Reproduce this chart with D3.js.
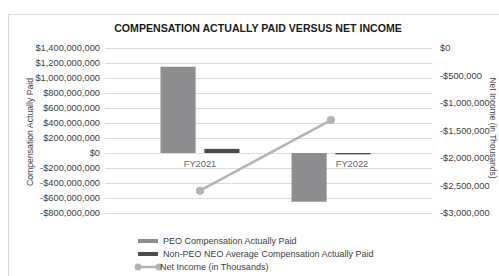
<!DOCTYPE html>
<html>
<head>
<meta charset="utf-8">
<script src="https://cdn.jsdelivr.net/npm/d3@7"></script>
<style>
  body { margin: 0; background: #fff; }
  svg { font-family: "Liberation Sans", Arial, sans-serif; display: block; }
</style>
</head>
<body>
<div id="chart"></div>
<script>
// data
const years = ["FY2021", "FY2022"];
const peoCap = [1150000000, -650000000];
const nonPeoCap = [55000000, -18000000];
const netIncome = [-2595000, -1310000];
const leftTicks = [1400000000, 1200000000, 1000000000, 800000000, 600000000, 400000000, 200000000, 0,
                   -200000000, -400000000, -600000000, -800000000];
const rightTicks = [0, -500000, -1000000, -1500000, -2000000, -2500000, -3000000];
const seriesNames = ["PEO Compensation Actually Paid", "Non-PEO NEO Average Compensation Actually Paid"];
const lineName = "Net Income (in Thousands)";

const W = 499, H = 276;
const plot = { left: 105, right: 432, top: 48, bottom: 213 };
const colors = { peo: "#8d8d8f", nonPeo: "#4b4b4b", line: "#b3b3b3", grid: "#dcdcdc", text: "#404040" };

const svg = d3.select("#chart").append("svg")
    .attr("width", W)
    .attr("height", H);

// outer frame
svg.append("rect")
    .attr("x", 8.5).attr("y", 14.5)
    .attr("width", 520).attr("height", 300)
    .attr("fill", "none")
    .attr("stroke", "#d9d9d9");

svg.append("text")
    .attr("x", 258).attr("y", 32)
    .attr("text-anchor", "middle")
    .style("font-size", "10.6px")
    .style("font-weight", "bold")
    .attr("fill", "#1a1a1a")
    .text("COMPENSATION ACTUALLY PAID VERSUS NET INCOME");

const yLeft = d3.scaleLinear().domain([-800000000, 1400000000]).range([plot.bottom, plot.top]);
const yRight = d3.scaleLinear().domain([-3000000, 0]).range([plot.bottom, plot.top]);

const x = d3.scaleBand().domain(years).range([134.5, 396.5]);
const xSub = d3.scaleBand().domain(["peo", "nonPeo"]).range([-39.5, 39.5]).paddingInner(0.2);

const money = d => (d < 0 ? "-$" : "$") + d3.format(",")(Math.abs(d));

// gridlines
svg.append("g")
    .selectAll("line")
    .data(leftTicks)
    .join("line")
    .attr("x1", plot.left).attr("x2", plot.right)
    .attr("y1", d => Math.round(yLeft(d)) + 0.5)
    .attr("y2", d => Math.round(yLeft(d)) + 0.5)
    .attr("stroke", colors.grid)
    .attr("stroke-width", 1);

// left axis
const leftAxis = svg.append("g")
    .attr("transform", `translate(${plot.left},0)`)
    .call(d3.axisLeft(yLeft).tickValues(leftTicks).tickFormat(money).tickSize(0).tickPadding(5));
leftAxis.select(".domain").remove();
leftAxis.selectAll("text")
    .style("font-size", "9.3px")
    .attr("fill", colors.text);

// right axis
const rightAxis = svg.append("g")
    .attr("transform", `translate(${plot.right},0)`)
    .call(d3.axisRight(yRight).tickValues(rightTicks).tickFormat(money).tickSize(0).tickPadding(8));
rightAxis.select(".domain").remove();
rightAxis.selectAll("text")
    .style("font-size", "9.3px")
    .attr("fill", colors.text);

// axis titles
svg.append("text")
    .attr("transform", "translate(33,132) rotate(-90)")
    .attr("text-anchor", "middle")
    .style("font-size", "8.7px")
    .attr("fill", colors.text)
    .text("Compensation Actually Paid");

svg.append("text")
    .attr("transform", "translate(490,128) rotate(90)")
    .attr("text-anchor", "middle")
    .style("font-size", "8.4px")
    .attr("fill", colors.text)
    .text("Net Income (in Thousands)");

// bars
const barData = years.map((y, i) => [
    { year: y, key: "peo", value: peoCap[i] },
    { year: y, key: "nonPeo", value: nonPeoCap[i] }
]).flat();

svg.append("g")
    .selectAll("rect")
    .data(barData)
    .join("rect")
    .attr("x", d => x(d.year) + x.bandwidth() / 2 + xSub(d.key))
    .attr("width", xSub.bandwidth())
    .attr("y", d => yLeft(Math.max(0, d.value)))
    .attr("height", d => Math.abs(yLeft(d.value) - yLeft(0)))
    .attr("fill", d => colors[d.key]);

// category labels (Excel shifts the FY2022 label off the negative bar)
const labelShift = [0, 21];
svg.append("g")
    .selectAll("text")
    .data(years)
    .join("text")
    .attr("x", (d, i) => x(d) + x.bandwidth() / 2 + labelShift[i])
    .attr("y", yLeft(0) + 14)
    .attr("text-anchor", "middle")
    .style("font-size", "9.3px")
    .attr("fill", "#666")
    .text(d => d);

// net income line
const line = d3.line()
    .x((d, i) => x(years[i]) + x.bandwidth() / 2)
    .y(d => yRight(d));

svg.append("path")
    .datum(netIncome)
    .attr("d", line)
    .attr("fill", "none")
    .attr("stroke", colors.line)
    .attr("stroke-width", 2.5);

svg.append("g")
    .selectAll("circle")
    .data(netIncome)
    .join("circle")
    .attr("cx", (d, i) => x(years[i]) + x.bandwidth() / 2)
    .attr("cy", d => yRight(d))
    .attr("r", 4)
    .attr("fill", colors.line);

// legend
const legend = svg.append("g").attr("transform", "translate(138,0)");
const legendY = [241, 254, 267];

legend.selectAll("rect")
    .data(seriesNames)
    .join("rect")
    .attr("x", 0).attr("width", 20)
    .attr("y", (d, i) => legendY[i] - 2)
    .attr("height", 4)
    .attr("fill", (d, i) => i === 0 ? colors.peo : colors.nonPeo);

legend.append("line")
    .attr("x1", 0).attr("x2", 21)
    .attr("y1", legendY[2]).attr("y2", legendY[2])
    .attr("stroke", colors.line)
    .attr("stroke-width", 2.5);
legend.selectAll("circle")
    .data([0, 21])
    .join("circle")
    .attr("cx", d => d).attr("cy", legendY[2])
    .attr("r", 3.5)
    .attr("fill", colors.line);

legend.selectAll("text")
    .data([...seriesNames, lineName])
    .join("text")
    .attr("x", (d, i) => i === 2 ? 22 : 25)
    .attr("y", (d, i) => legendY[i] + 3.2)
    .style("font-size", "9px")
    .attr("fill", colors.text)
    .text(d => d);
</script>
</body>
</html>
